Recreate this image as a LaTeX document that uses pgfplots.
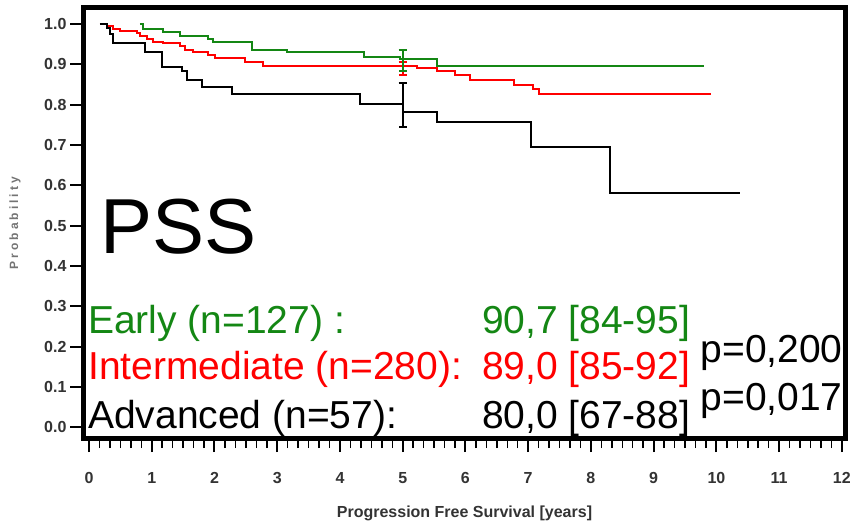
\documentclass[border=0pt]{standalone}
\usepackage{pgfplots}
\pgfplotsset{compat=1.18}
\usepackage{fontspec}
\setmainfont{Liberation Sans}
\definecolor{kmgreen}{RGB}{20,135,20}
\definecolor{kmred}{RGB}{255,0,0}
\begin{document}
\begin{tikzpicture}
\path[use as bounding box] (-84pt,-89pt) rectangle (766pt,438pt);
\begin{axis}[
  at={(0pt,0pt)}, anchor=south west,
  scale only axis, width=761pt, height=430pt,
  xmin=-0.08, xmax=12.05, ymin=-0.027, ymax=1.04,
  clip=false,
  axis line style={line width=5pt},
  xtick={0,1,2,3,4,5,6,7,8,9,10,11,12},
  ytick={0,0.1,0.2,0.3,0.4,0.5,0.6,0.7,0.8,0.9,1.0},
  minor x tick num=5,
  tick align=outside, tick pos=left,
  major tick length=14pt, minor tick length=10pt,
  tick style={line width=2pt, black},
  minor tick style={line width=1.5pt, black},
  /pgf/number format/assume math mode=true,
  yticklabel style={/pgf/number format/.cd, fixed, fixed zerofill, precision=1},
  xticklabel style={yshift=-17pt},
  ticklabel style={font=\fontsize{16}{16}\selectfont\bfseries, text=black!80},
  xlabel={Progression Free Survival [years]},
  xlabel style={at={(axis description cs:0.5,0)}, anchor=center, yshift=-75pt,
    font=\fontsize{16}{16}\selectfont\bfseries, text=black!80},
  ylabel={\addfontfeature{LetterSpace=25}Probability},
  ylabel style={at={(axis description cs:0,0.5)}, anchor=center, yshift=69pt,
    font=\fontsize{12}{12}\selectfont\bfseries, text=black!55},
]
% Early
\addplot[const plot mark left, kmgreen, line width=2pt] coordinates {
 (0.81,1.0) (0.86,0.989) (1.18,0.981) (1.45,0.971) (1.89,0.963) (1.97,0.955)
 (2.60,0.935) (3.15,0.93) (4.39,0.919) (4.95,0.913) (5.54,0.896) (9.81,0.896)};
% Intermediate
\addplot[const plot mark left, kmred, line width=2pt] coordinates {
 (0.175,1.0) (0.29,0.995) (0.38,0.989) (0.49,0.983) (0.76,0.977) (0.81,0.971)
 (0.92,0.963) (1.02,0.956) (1.18,0.952) (1.45,0.946) (1.53,0.937) (1.66,0.931)
 (1.89,0.923) (2.01,0.915) (2.48,0.906) (2.77,0.897) (5.22,0.89) (5.54,0.883)
 (5.83,0.873) (6.07,0.861) (6.78,0.850) (7.07,0.84) (7.18,0.826) (9.92,0.826)};
% Advanced
\addplot[const plot mark left, black, line width=2pt] coordinates {
 (0.175,1.0) (0.29,0.99) (0.33,0.975) (0.38,0.953) (0.89,0.930) (1.16,0.894)
 (1.48,0.884) (1.56,0.861) (1.80,0.843) (2.28,0.826) (4.32,0.803) (5.0,0.781)
 (5.54,0.756) (7.04,0.696) (8.30,0.580) (10.37,0.580)};
% 5-year confidence intervals
\addplot[draw=none, mark=none, kmred, error bars/.cd, y dir=both, y explicit,
  error bar style={line width=2pt, kmred}, error mark options={rotate=90, mark size=4pt, line width=2pt, kmred}]
  coordinates {(5,0.89) +- (0,0.017)};
\addplot[draw=none, mark=none, kmgreen, error bars/.cd, y dir=both, y explicit,
  error bar style={line width=2pt, kmgreen}, error mark options={rotate=90, mark size=4pt, line width=2pt, kmgreen}]
  coordinates {(5,0.909) +- (0,0.026)};
\addplot[draw=none, mark=none, black, error bars/.cd, y dir=both, y explicit,
  error bar style={line width=2pt, black}, error mark options={rotate=90, mark size=4pt, line width=2pt, black}]
  coordinates {(5,0.80) +- (0,0.055)};
% texts
\node[anchor=base west, inner sep=0pt, font=\fontsize{78}{78}\selectfont] at (axis cs:0.175,0.432) {PSS};
\node[anchor=base west, inner sep=0pt, font=\fontsize{39}{39}\selectfont, text=kmgreen] at (axis cs:-0.016,0.233) {Early (n=127) :};
\node[anchor=base west, inner sep=0pt, font=\fontsize{39}{39}\selectfont, text=kmred] at (axis cs:-0.016,0.117) {Intermediate (n=280):};
\node[anchor=base west, inner sep=0pt, font=\fontsize{39}{39}\selectfont, text=black] at (axis cs:-0.016,-0.0025) {Advanced (n=57):};
\node[anchor=base east, inner sep=0pt, font=\fontsize{39}{39}\selectfont, text=kmgreen] at (axis cs:9.585,0.233) {90,7 [84-95]};
\node[anchor=base east, inner sep=0pt, font=\fontsize{39}{39}\selectfont, text=kmred] at (axis cs:9.585,0.117) {89,0 [85-92]};
\node[anchor=base east, inner sep=0pt, font=\fontsize{39}{39}\selectfont, text=black] at (axis cs:9.585,-0.0025) {80,0 [67-88]};
\node[anchor=base west, inner sep=0pt, font=\fontsize{39}{39}\selectfont, text=black] at (axis cs:9.745,0.161) {p=0,200};
\node[anchor=base west, inner sep=0pt, font=\fontsize{39}{39}\selectfont, text=black] at (axis cs:9.745,0.042) {p=0,017};
\end{axis}
\end{tikzpicture}
\end{document}
